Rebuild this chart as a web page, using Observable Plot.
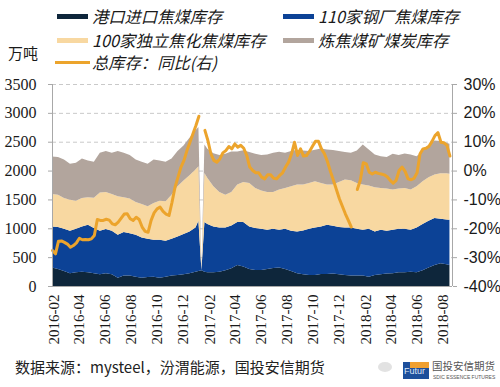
<!DOCTYPE html>
<html><head><meta charset="utf-8">
<script src="https://cdn.jsdelivr.net/npm/d3@7"></script>
<script src="https://cdn.jsdelivr.net/npm/@observablehq/plot@0.6"></script>
<style>
body{margin:0;background:#fff;width:500px;height:387px;overflow:hidden;position:relative;font-family:"Noto Sans CJK SC",sans-serif;color:#1a1a1a}
.lg{position:absolute;font-style:italic;font-size:16.3px;line-height:16px;white-space:nowrap}
.sw{position:absolute;width:31px;height:5px}
.ln{position:absolute;width:35px;height:3px}
#chart{position:absolute;left:0;top:72px}
#unit{position:absolute;left:8px;top:45px;font-size:15px;line-height:16px}
#footer{position:absolute;left:15px;top:359px;font-size:15px;line-height:16px;white-space:nowrap;color:#222}
#wm{position:absolute;left:376px;top:350px;width:124px;height:36px}
</style></head><body>
<div id="legend"></div>
<div id="unit">万吨</div>
<div id="chart"></div>
<div id="footer">数据来源：mysteel，汾渭能源，国投安信期货</div>
<div id="wm">
  <div style="position:absolute;left:2px;top:12px;width:14px;height:10px;border-radius:50%;background:#e2e2e2"></div>
  <div style="position:absolute;left:27px;top:12px;width:26px;height:17px;background:#1d4f9b"></div>
  <div style="position:absolute;left:34px;top:12px;width:19px;height:6px;background:#f0a030"></div>
  <div style="position:absolute;left:28px;top:16px;font-size:9px;line-height:10px;color:#dfe8f7;font-family:'Liberation Sans',sans-serif">Futur</div>
  <div style="position:absolute;left:56px;top:10px;font-size:10.5px;line-height:12px;color:#555;white-space:nowrap">国投安信期货</div>
  <div style="position:absolute;left:57px;top:24px;font-size:5px;line-height:6px;color:#555;white-space:nowrap;font-family:'Liberation Sans',sans-serif">SDIC ESSENCE FUTURES</div>
</div>
<script>
// ---- data ----
const seriesNames = ["港口进口焦煤库存", "110家钢厂焦煤库存", "100家独立焦化焦煤库存", "炼焦煤矿煤炭库存"];
const seriesColors = ["#0e263b", "#0c4296", "#f8d8a1", "#b2a59d"];
const lineName = "总库存：同比(右)";
const lineColor = "#eca42c";
const startDate = "2016-01-29"; // first weekly observation
const endDate = "2018-08-23";
const tickLabels = ["2016-02","2016-04","2016-06","2016-08","2016-10","2016-12","2017-02","2017-04","2017-06","2017-08","2017-10","2017-12","2018-02","2018-04","2018-06","2018-08"];
const leftTicks = [0,500,1000,1500,2000,2500,3000,3500];
const rightTicks = [-40,-30,-20,-10,0,10,20,30];

// week indexes of the stacked-area observations
const areaWeeks = [0,2,4,6,8,10,12,14,16,18,20,22,24,26,28,30,32,34,36,38,40,42,44,46,48,49,50,51,52,54,56,58,60,62,64,66,68,70,72,74,76,78,80,82,84,86,88,90,92,94,96,98,100,102,104,106,108,110,112,114,116,118,120,122,124,126,128,130,132,133];

const portStock = [319,296,261,220,238,249,238,220,203,220,203,145,180,180,162,145,157,162,145,162,180,191,203,220,249,261,273,249,238,238,249,273,307,365,336,296,278,278,296,313,319,296,261,220,203,191,191,209,209,215,203,191,180,180,180,162,191,203,215,220,238,238,249,238,273,319,365,394,377,365];
const millStock = [713,725,731,737,754,783,823,783,754,766,754,742,754,736,725,696,661,638,655,621,638,667,696,725,766,870,0,859,835,794,766,742,743,743,772,736,725,714,678,679,655,696,696,725,760,801,824,823,852,829,818,824,835,812,794,830,754,771,742,754,754,754,725,777,800,812,812,772,777,783];
const cokerStock = [563,562,533,539,487,493,476,527,663,644,638,667,603,598,569,580,562,638,679,684,765,870,928,975,1003,945,0,852,800,696,615,568,580,649,696,754,696,661,656,638,696,707,771,812,794,794,800,754,696,713,783,829,818,794,783,748,766,725,731,696,696,707,696,713,742,754,754,789,801,795];
const mineStock = [650,650,667,621,655,685,638,622,688,707,713,783,771,754,736,731,737,754,696,685,627,609,609,649,679,679,0,490,507,572,640,707,700,573,546,534,592,615,649,678,656,609,609,604,592,551,546,598,609,598,533,476,475,563,696,626,568,551,545,621,580,598,609,522,522,557,592,556,527,522];

// weekly year-on-year change of total stock (%), null = no data
const totalYoY = [-27.5,-28.7,-24.3,-24.2,-24.7,-25.3,-26.4,-25.8,-24.9,-23.3,
-23.8,-23.7,-23.8,-23.5,-22.3,-16.8,-17.1,-17.1,-16.7,-17.0,
-18.3,-18.6,-17.7,-16.3,-14.9,-14.8,-16.5,-17.1,-16.0,-16.8,
-19.4,-20.9,-21.2,-17.1,-14.5,-13.1,-12.5,-14.0,-14.9,-15.4,
-10.8,-5.6,-2.1,1.4,3.7,7.1,10.0,12.9,15.8,19.0,
null,14.1,10.6,6.0,3.7,3.1,4.2,6.3,7.1,8.5,
7.7,9.4,8.3,8.9,7.9,5.4,1.4,0.2,-0.6,-0.6,
-2.1,-2.7,-1.3,-1.3,-2.5,-2.7,-1.5,-0.6,1.4,3.1,
6.0,10.0,5.4,7.7,5.2,5.4,6.8,8.6,10.3,10.3,
7.7,6.0,3.3,-0.1,-3.2,-6.4,-9.6,-12.2,-14.8,-17.1,
-19.4,null,-6.4,-3.2,2.9,2.5,-0.4,-1.0,-0.4,-0.8,
-1.0,-1.3,-2.0,-3.2,-4.2,-3.2,0.2,1.4,-0.1,-2.7,
-3.0,-2.5,-0.6,6.0,7.7,7.9,8.6,10.3,12.3,13.3,
10.0,9.8,8.9,5.2];

// ---- build ----
const t0 = d3.utcParse("%Y-%m-%d")(startDate);
const t1 = d3.utcParse("%Y-%m-%d")(endDate);
const weekDate = i => d3.utcDay.offset(t0, i * 7);
const tickDates = tickLabels.map(d3.utcParse("%Y-%m"));

const stacks = [portStock, millStock, cokerStock, mineStock];
const areaData = [];
seriesNames.forEach((name, s) => {
  areaWeeks.forEach((w, j) => areaData.push({date: weekDate(w), series: name, value: stacks[s][j]}));
});
const lineData = totalYoY.map((v, i) => ({date: weekDate(i), pct: v}));
// right axis (-40%..30%) shares the left axis range (0..3500)
const pctToLeft = p => (p + 40) * 3500 / 70;

const chart = Plot.plot({
  width: 500,
  height: 280,
  marginLeft: 52,
  marginRight: 48,
  marginTop: 12,
  marginBottom: 66,
  x: {type: "utc", domain: [t0, t1], label: null},
  y: {domain: [0, 3500], label: null},
  color: {domain: seriesNames, range: seriesColors},
  marks: [
    Plot.gridY(leftTicks.filter(d => d > 0), {stroke: "#c9c9c9", strokeOpacity: 1, strokeDasharray: "4,3"}),
    Plot.areaY(areaData, {x: "date", y: "value", fill: "series", z: "series", curve: "linear"}),
    Plot.lineY(lineData, {x: "date", y: d => d.pct == null ? NaN : pctToLeft(d.pct), stroke: lineColor, strokeWidth: 3, curve: "linear"}),
    Plot.ruleX([t0, t1], {stroke: "#a8a8a8"}),
    Plot.ruleY([0], {stroke: "#a8a8a8"}),
    Plot.axisY(leftTicks, {anchor: "left", tickSize: 4, tickPadding: 12, tickFormat: d => String(d), fontSize: 16, fontFamily: "Liberation Serif", stroke: "#a8a8a8", fill: "#1a1a1a", label: null}),
    Plot.axisY(rightTicks.map(pctToLeft), {anchor: "right", tickSize: 4, tickPadding: 7, tickFormat: (d, i) => rightTicks[i] + "%", fontSize: 16, fontFamily: "Liberation Sans Narrow, Liberation Sans, sans-serif", stroke: "#a8a8a8", fill: "#1a1a1a", label: null}),
    Plot.axisX(tickDates, {anchor: "bottom", tickSize: 0, tickPadding: 8, tickRotate: -90, tickFormat: d3.utcFormat("%Y-%m"), fontSize: 15, fontFamily: "Liberation Serif", fill: "#1a1a1a", label: null})
  ]
});
document.getElementById("chart").appendChild(chart);

// ---- legend ----
const lg = document.getElementById("legend");
const legendItems = [
  {name: seriesNames[0], color: seriesColors[0], kind: "sw", x: 57, y: 16},
  {name: seriesNames[1], color: seriesColors[1], kind: "sw", x: 283, y: 16},
  {name: seriesNames[2], color: seriesColors[2], kind: "sw", x: 57, y: 40},
  {name: seriesNames[3], color: seriesColors[3], kind: "sw", x: 283, y: 40},
  {name: lineName, color: lineColor, kind: "ln", x: 55, y: 62}
];
legendItems.forEach(it => {
  const sw = document.createElement("div");
  sw.className = it.kind;
  sw.style.left = it.x + "px";
  sw.style.top = (it.y - (it.kind === "sw" ? 2.5 : 1.5)) + "px";
  sw.style.background = it.color;
  lg.appendChild(sw);
  const tx = document.createElement("div");
  tx.className = "lg";
  tx.textContent = it.name;
  tx.style.left = (it.x + (it.kind === "sw" ? 35 : 37)) + "px";
  tx.style.top = (it.y - 8) + "px";
  lg.appendChild(tx);
});
</script>
</body></html>
